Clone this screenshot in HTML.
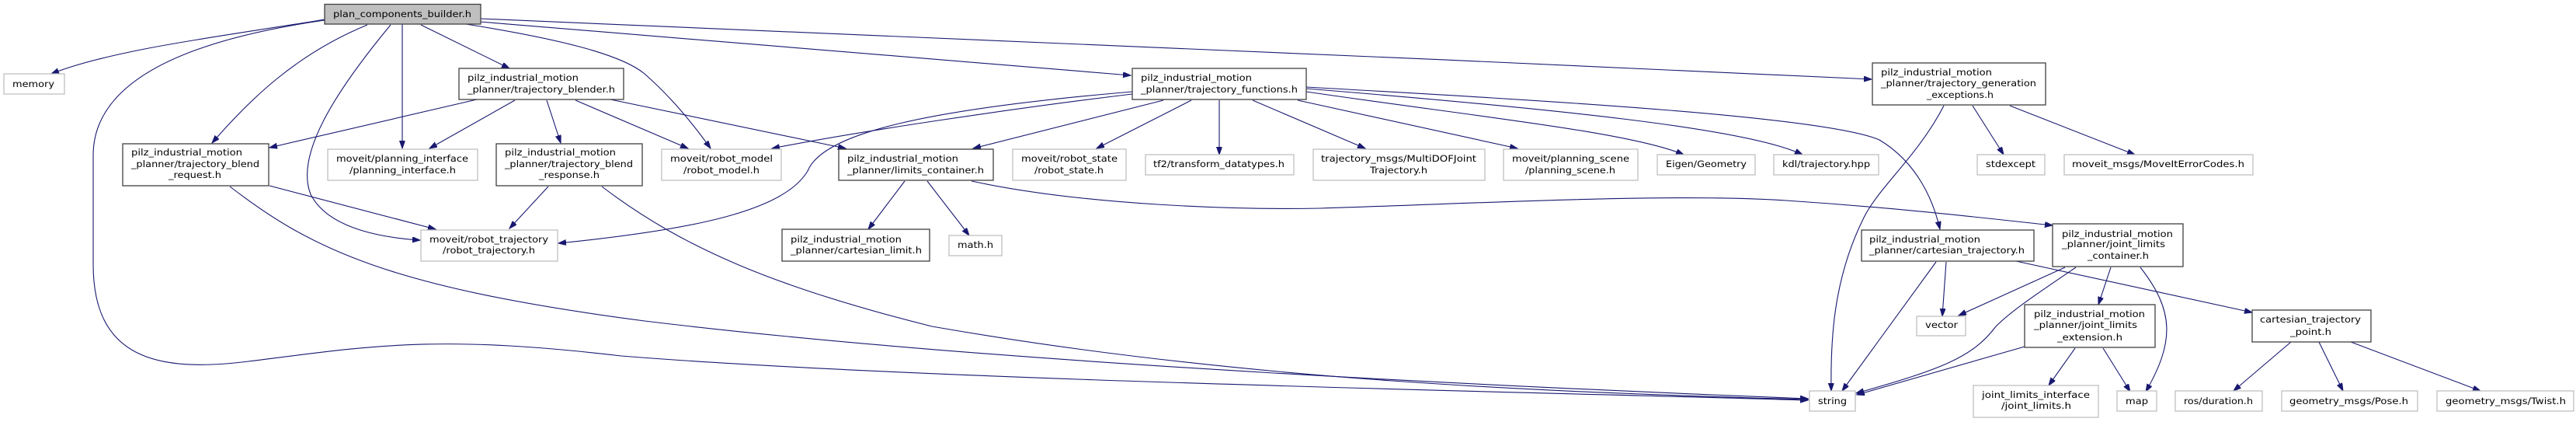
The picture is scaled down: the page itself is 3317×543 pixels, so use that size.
<!DOCTYPE html>
<html><head><meta charset="utf-8"><style>
html,body{margin:0;padding:0;background:#fff;}
svg{display:block;}
text{font-family:"DejaVu Sans","Liberation Sans",sans-serif;font-size:11.5px;fill:#000;}
.d{fill:#fff;stroke:#404040;stroke-width:1.3;}
.l{fill:#fff;stroke:#bfbfbf;stroke-width:1.3;}
.e{fill:none;stroke:#191970;stroke-width:1.1;marker-end:url(#a);}
</style></head><body>
<svg width="3317" height="543" viewBox="0 0 3317 543" xmlns="http://www.w3.org/2000/svg">
<defs><marker id="a" markerUnits="userSpaceOnUse" markerWidth="12" markerHeight="10" refX="10" refY="3.5" orient="auto"><path d="M0,0 L10,3.5 L0,7 z" fill="#191970" stroke="#191970"/></marker></defs>

<!-- edges -->
<path class="e" d="M418,25 C300,45 150,62 66,95"/>
<path class="e" d="M418,26 C250,50 120,100 120,200 L120,340 C120,460 200,480 320,465 C480,445 560,430 800,458 C1200,490 2000,505 2328,515"/>
<path class="e" d="M473,32 C380,70 320,130 273,184"/>
<path class="e" d="M503,32 C430,120 380,200 400,250 C420,290 480,305 541,309"/>
<path class="e" d="M518,31 L518,191"/>
<path class="e" d="M542,32 L656,88"/>
<path class="e" d="M600,31 C720,50 800,70 830,95 C870,130 900,170 915,191"/>
<path class="e" d="M618,28 L1456,97"/>
<path class="e" d="M618,24 C1100,40 1800,75 2410,102"/>

<path class="e" d="M614,128 L347,190"/>
<path class="e" d="M663,129 L553,191"/>
<path class="e" d="M704,129 L722,184"/>
<path class="e" d="M741,129 L886,191"/>
<path class="e" d="M786,128 L1089,191"/>

<path class="e" d="M347,239 L561,295"/>
<path class="e" d="M296,240 C400,320 500,370 830,413 C1300,470 2000,500 2328,513"/>
<path class="e" d="M706,240 L656,294"/>
<path class="e" d="M775,240 C880,320 1000,370 1200,420 C1600,490 2000,505 2328,514"/>

<path class="e" d="M1458,118 C1200,140 1060,170 1040,220 C1010,270 900,295 719,313"/>
<path class="e" d="M1458,121 C1300,140 1100,170 994,191"/>
<path class="e" d="M1498,129 L1253,191"/>
<path class="e" d="M1534,129 L1412,191"/>
<path class="e" d="M1570,129 L1570,199"/>
<path class="e" d="M1613,129 L1758,191"/>
<path class="e" d="M1671,129 L1954,191"/>
<path class="e" d="M1682,118 C1900,150 2100,170 2168,199"/>
<path class="e" d="M1682,114 C2000,140 2250,165 2321,199"/>
<path class="e" d="M1682,112 C2000,130 2350,150 2420,180 C2470,210 2490,260 2498,295"/>

<path class="e" d="M2503,136 C2470,200 2420,240 2400,280 C2360,360 2357,440 2358,503"/>
<path class="e" d="M2540,136 L2580,199"/>
<path class="e" d="M2588,136 L2749,199"/>

<path class="e" d="M1165,233 L1118,295"/>
<path class="e" d="M1194,233 L1248,303"/>
<path class="e" d="M1251,233 C1400,265 1600,270 1700,268 C1900,262 2150,248 2300,258 C2450,268 2550,280 2643,290"/>

<path class="e" d="M2493,337 L2372,503"/>
<path class="e" d="M2506,337 L2501,407"/>
<path class="e" d="M2596,336 L2900,402"/>

<path class="e" d="M2659,344 L2522,406"/>
<path class="e" d="M2673,344 C2620,380 2590,400 2570,420 C2540,460 2500,475 2390,506"/>
<path class="e" d="M2718,344 L2702,392"/>
<path class="e" d="M2756,344 C2800,400 2800,440 2763,504"/>

<path class="e" d="M2607,446 L2391,508"/>
<path class="e" d="M2672,448 L2638,496"/>
<path class="e" d="M2708,448 L2743,504"/>

<path class="e" d="M2950,440 L2876,503"/>
<path class="e" d="M2986,440 L3017,503"/>
<path class="e" d="M3027,440 L3194,503"/>

<!-- nodes -->
<rect x="418" y="5.5" width="201" height="25.5" fill="#bfbfbf" stroke="#404040" stroke-width="1.3"/>
<text x="429" y="22" textLength="178" lengthAdjust="spacingAndGlyphs">plan_components_builder.h</text>

<rect class="l" x="5" y="95" width="78" height="26"/>
<text x="16" y="112" textLength="54" lengthAdjust="spacingAndGlyphs">memory</text>

<rect class="d" x="591" y="88" width="212" height="40"/>
<text x="602" y="104" textLength="143" lengthAdjust="spacingAndGlyphs">pilz_industrial_motion</text>
<text x="602" y="119" textLength="190" lengthAdjust="spacingAndGlyphs">_planner/trajectory_blender.h</text>

<rect class="d" x="158" y="185" width="188" height="54"/>
<text x="169" y="200" textLength="143" lengthAdjust="spacingAndGlyphs">pilz_industrial_motion</text>
<text x="169" y="215" textLength="165" lengthAdjust="spacingAndGlyphs">_planner/trajectory_blend</text>
<text x="217" y="229" textLength="68" lengthAdjust="spacingAndGlyphs">_request.h</text>

<rect class="l" x="422" y="192" width="193" height="40"/>
<text x="433" y="208" textLength="170" lengthAdjust="spacingAndGlyphs">moveit/planning_interface</text>
<text x="450" y="223" textLength="137" lengthAdjust="spacingAndGlyphs">/planning_interface.h</text>

<rect class="d" x="639" y="185" width="188" height="54"/>
<text x="650" y="200" textLength="143" lengthAdjust="spacingAndGlyphs">pilz_industrial_motion</text>
<text x="650" y="215" textLength="165" lengthAdjust="spacingAndGlyphs">_planner/trajectory_blend</text>
<text x="694" y="229" textLength="78" lengthAdjust="spacingAndGlyphs">_response.h</text>

<rect class="l" x="542" y="296" width="176" height="40"/>
<text x="553" y="312" textLength="153" lengthAdjust="spacingAndGlyphs">moveit/robot_trajectory</text>
<text x="570" y="326" textLength="119" lengthAdjust="spacingAndGlyphs">/robot_trajectory.h</text>

<rect class="d" x="1458" y="88" width="224" height="40"/>
<text x="1469" y="104" textLength="143" lengthAdjust="spacingAndGlyphs">pilz_industrial_motion</text>
<text x="1469" y="119" textLength="202" lengthAdjust="spacingAndGlyphs">_planner/trajectory_functions.h</text>

<rect class="l" x="852" y="192" width="154" height="40"/>
<text x="863" y="208" textLength="132" lengthAdjust="spacingAndGlyphs">moveit/robot_model</text>
<text x="880" y="223" textLength="98" lengthAdjust="spacingAndGlyphs">/robot_model.h</text>

<rect class="d" x="1080" y="192" width="199" height="40"/>
<text x="1091" y="208" textLength="143" lengthAdjust="spacingAndGlyphs">pilz_industrial_motion</text>
<text x="1091" y="223" textLength="176" lengthAdjust="spacingAndGlyphs">_planner/limits_container.h</text>

<rect class="l" x="1304" y="192" width="146" height="40"/>
<text x="1315" y="208" textLength="124" lengthAdjust="spacingAndGlyphs">moveit/robot_state</text>
<text x="1332" y="223" textLength="89" lengthAdjust="spacingAndGlyphs">/robot_state.h</text>

<rect class="l" x="1475" y="199" width="191" height="26"/>
<text x="1485" y="215" textLength="169" lengthAdjust="spacingAndGlyphs">tf2/transform_datatypes.h</text>

<rect class="d" x="1007" y="295" width="190" height="41"/>
<text x="1018" y="312" textLength="143" lengthAdjust="spacingAndGlyphs">pilz_industrial_motion</text>
<text x="1018" y="326" textLength="169" lengthAdjust="spacingAndGlyphs">_planner/cartesian_limit.h</text>

<rect class="l" x="1222" y="303" width="68" height="26"/>
<text x="1233" y="319" textLength="46" lengthAdjust="spacingAndGlyphs">math.h</text>

<rect class="l" x="1691" y="192" width="221" height="40"/>
<text x="1701" y="208" textLength="200" lengthAdjust="spacingAndGlyphs">trajectory_msgs/MultiDOFJoint</text>
<text x="1764" y="223" textLength="74" lengthAdjust="spacingAndGlyphs">Trajectory.h</text>

<rect class="l" x="1936" y="192" width="173" height="40"/>
<text x="1947" y="208" textLength="151" lengthAdjust="spacingAndGlyphs">moveit/planning_scene</text>
<text x="1964" y="223" textLength="116" lengthAdjust="spacingAndGlyphs">/planning_scene.h</text>

<rect class="l" x="2134" y="199" width="126" height="26"/>
<text x="2145" y="215" textLength="104" lengthAdjust="spacingAndGlyphs">Eigen/Geometry</text>

<rect class="l" x="2284" y="199" width="135" height="26"/>
<text x="2295" y="215" textLength="113" lengthAdjust="spacingAndGlyphs">kdl/trajectory.hpp</text>

<rect class="d" x="2411" y="81" width="223" height="54"/>
<text x="2422" y="97" textLength="143" lengthAdjust="spacingAndGlyphs">pilz_industrial_motion</text>
<text x="2422" y="111" textLength="200" lengthAdjust="spacingAndGlyphs">_planner/trajectory_generation</text>
<text x="2481" y="126" textLength="86" lengthAdjust="spacingAndGlyphs">_exceptions.h</text>

<rect class="l" x="2546" y="199" width="87" height="26"/>
<text x="2557" y="215" textLength="64" lengthAdjust="spacingAndGlyphs">stdexcept</text>

<rect class="l" x="2658" y="199" width="243" height="26"/>
<text x="2668" y="215" textLength="222" lengthAdjust="spacingAndGlyphs">moveit_msgs/MoveItErrorCodes.h</text>

<rect class="d" x="2397" y="296" width="222" height="40"/>
<text x="2407" y="312" textLength="143" lengthAdjust="spacingAndGlyphs">pilz_industrial_motion</text>
<text x="2407" y="326" textLength="200" lengthAdjust="spacingAndGlyphs">_planner/cartesian_trajectory.h</text>

<rect class="d" x="2643" y="288" width="168" height="55"/>
<text x="2655" y="305" textLength="143" lengthAdjust="spacingAndGlyphs">pilz_industrial_motion</text>
<text x="2655" y="318" textLength="133" lengthAdjust="spacingAndGlyphs">_planner/joint_limits</text>
<text x="2688" y="333" textLength="79" lengthAdjust="spacingAndGlyphs">_container.h</text>

<rect class="l" x="2468" y="407" width="63" height="25"/>
<text x="2479" y="422" textLength="42" lengthAdjust="spacingAndGlyphs">vector</text>

<rect class="d" x="2607" y="392" width="168" height="55"/>
<text x="2619" y="408" textLength="143" lengthAdjust="spacingAndGlyphs">pilz_industrial_motion</text>
<text x="2619" y="422" textLength="133" lengthAdjust="spacingAndGlyphs">_planner/joint_limits</text>
<text x="2649" y="438" textLength="84" lengthAdjust="spacingAndGlyphs">_extension.h</text>

<rect class="d" x="2900" y="399" width="153" height="41"/>
<text x="2910" y="415" textLength="130" lengthAdjust="spacingAndGlyphs">cartesian_trajectory</text>
<text x="2949" y="431" textLength="53" lengthAdjust="spacingAndGlyphs">_point.h</text>

<rect class="l" x="2330" y="503" width="59" height="26"/>
<text x="2341" y="520" textLength="37" lengthAdjust="spacingAndGlyphs">string</text>

<rect class="l" x="2541" y="496" width="161" height="41"/>
<text x="2552" y="512" textLength="139" lengthAdjust="spacingAndGlyphs">joint_limits_interface</text>
<text x="2577" y="526" textLength="90" lengthAdjust="spacingAndGlyphs">/joint_limits.h</text>

<rect class="l" x="2726" y="503" width="51" height="26"/>
<text x="2737" y="520" textLength="29" lengthAdjust="spacingAndGlyphs">map</text>

<rect class="l" x="2801" y="503" width="112" height="26"/>
<text x="2812" y="520" textLength="89" lengthAdjust="spacingAndGlyphs">ros/duration.h</text>

<rect class="l" x="2938" y="503" width="175" height="26"/>
<text x="2948" y="520" textLength="153" lengthAdjust="spacingAndGlyphs">geometry_msgs/Pose.h</text>

<rect class="l" x="3138" y="503" width="176" height="26"/>
<text x="3149" y="520" textLength="155" lengthAdjust="spacingAndGlyphs">geometry_msgs/Twist.h</text>
</svg>
</body></html>
